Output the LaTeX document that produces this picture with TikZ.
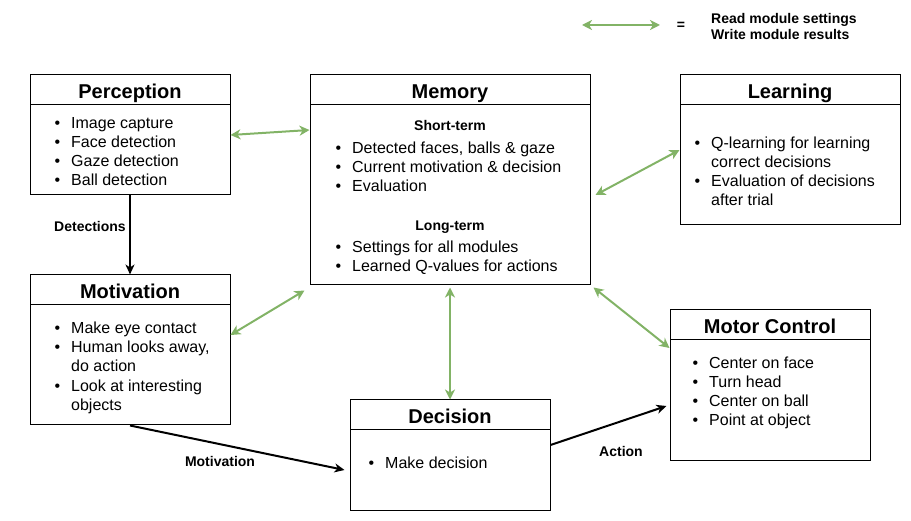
\documentclass[tikz,border=0pt]{standalone}
\usepackage{fontspec}
\setmainfont{Liberation Sans}
\usetikzlibrary{arrows.meta}

\definecolor{rwgreen}{HTML}{82B366}
\newcommand\bul{\llap{\textbullet\hspace{11pt}}}

\begin{document}
\begin{tikzpicture}[x=1pt,y=-1pt,
    box/.style={draw,rectangle,line width=1pt,inner sep=0},
    head/.style={draw,rectangle,line width=1pt,anchor=north,minimum height=30pt,inner sep=0,
      text height=18pt,text depth=1pt,font=\fontsize{20}{24}\selectfont\bfseries},
    item/.style={anchor=base west,inner sep=0,align=left,font=\fontsize{16}{19}\selectfont},
    sub/.style={anchor=base,inner sep=0,font=\fontsize{14}{16}\selectfont\bfseries},
    lbl/.style={inner sep=0,font=\fontsize{14}{16}\selectfont\bfseries},
    rw/.style={draw=rwgreen,line width=2pt,
      {Stealth[length=10pt,width=10pt,inset=3pt]}-{Stealth[length=10pt,width=10pt,inset=3pt]}},
    flow/.style={draw,line width=2pt,-{Stealth[length=10pt,width=9pt,inset=3pt]}}]

  \useasboundingbox (0,0) rectangle (911,521);

  % modules
  \node[box,minimum width=200pt,minimum height=120pt] (perc)  at (130,135) {};
  \node[box,minimum width=280pt,minimum height=210pt] (mem)   at (450,180) {};
  \node[box,minimum width=220pt,minimum height=150pt] (learn) at (790,150) {};
  \node[box,minimum width=200pt,minimum height=150pt] (motiv) at (130,350) {};
  \node[box,minimum width=200pt,minimum height=150pt] (motor) at (770,385) {};
  \node[box,minimum width=200pt,minimum height=110pt] (dec)   at (450,455) {};

  \node[head,minimum width=200pt] (perch)  at (perc.north)  {Perception};
  \node[head,minimum width=280pt] (memh)   at (mem.north)   {Memory};
  \node[head,minimum width=220pt] (learnh) at (learn.north) {Learning};
  \node[head,minimum width=200pt] (motivh) at (motiv.north) {Motivation};
  \node[head,minimum width=200pt] (motorh) at (motor.north) {Motor Control};
  \node[head,minimum width=200pt] (dech)   at (dec.north)   {Decision};

  % contents (two-line items sit on their last baseline)
  \node[item] (perc1) at (71,129) {\bul Image capture};
  \node[item] (perc2) at (71,148) {\bul Face detection};
  \node[item] (perc3) at (71,167) {\bul Gaze detection};
  \node[item] (perc4) at (71,186) {\bul Ball detection};

  \node[sub] (short) at (450,131) {Short-term};
  \node[item] (mem1) at (352,154) {\bul Detected faces, balls \& gaze};
  \node[item] (mem2) at (352,173) {\bul Current motivation \& decision};
  \node[item] (mem3) at (352,192) {\bul Evaluation};
  \node[sub] (long) at (450,231) {Long-term};
  \node[item] (mem4) at (352,253) {\bul Settings for all modules};
  \node[item] (mem5) at (352,272) {\bul Learned Q-values for actions};

  \node[item] (learn1) at (711,168) {\bul Q-learning for learning\\correct decisions};
  \node[item] (learn2) at (711,206) {\bul Evaluation of decisions\\after trial};

  \node[item] (motiv1) at (71,334) {\bul Make eye contact};
  \node[item] (motiv2) at (71,372) {\bul Human looks away,\\do action};
  \node[item] (motiv3) at (71,410) {\bul Look at interesting\\objects};

  \node[item] (motor1) at (709,369) {\bul Center on face};
  \node[item] (motor2) at (709,388) {\bul Turn head};
  \node[item] (motor3) at (709,407) {\bul Center on ball};
  \node[item] (motor4) at (709,426) {\bul Point at object};

  \node[item] (dec1) at (385,468) {\bul Make decision};

  % legend
  \coordinate (lega) at (582,25);
  \coordinate (legb) at (660,25);
  \path[rw] (lega) -- (legb);
  \node[lbl] (eq) at (681,26) {=};
  \node[lbl,anchor=west,align=left] (legtxt) at (711,26) {Read module settings\\Write module results};

  % read/write
  \path[rw] (perc.east) -- ([yshift=50pt]mem.west);
  \path[rw] ([yshift=15pt]motiv.east) -- ([xshift=-5pt,yshift=-5pt]mem.south west);
  \path[rw] ([xshift=5pt,yshift=-15pt]mem.east) -- (learn.west);
  \path[rw] ([yshift=-2pt]mem.south) -- (dec.north);
  \path[rw] ([xshift=3pt,yshift=-2pt]mem.south east) -- ([yshift=37pt]motor.west);

  % flow
  \path[flow] (perc.south) -- (motiv.north);
  \path[flow] (motiv.south) -- ([xshift=-5pt,yshift=-15pt]dec.west);
  \path[flow] ([yshift=10pt]dec.east) -- ([xshift=-3pt,yshift=-21pt]motor.west);

  \node[lbl] (detl) at (90,226) {Detections};
  \node[lbl] (motl) at (220,461) {Motivation};
  \node[lbl] (actl) at (621,451) {Action};

\end{tikzpicture}
\end{document}
